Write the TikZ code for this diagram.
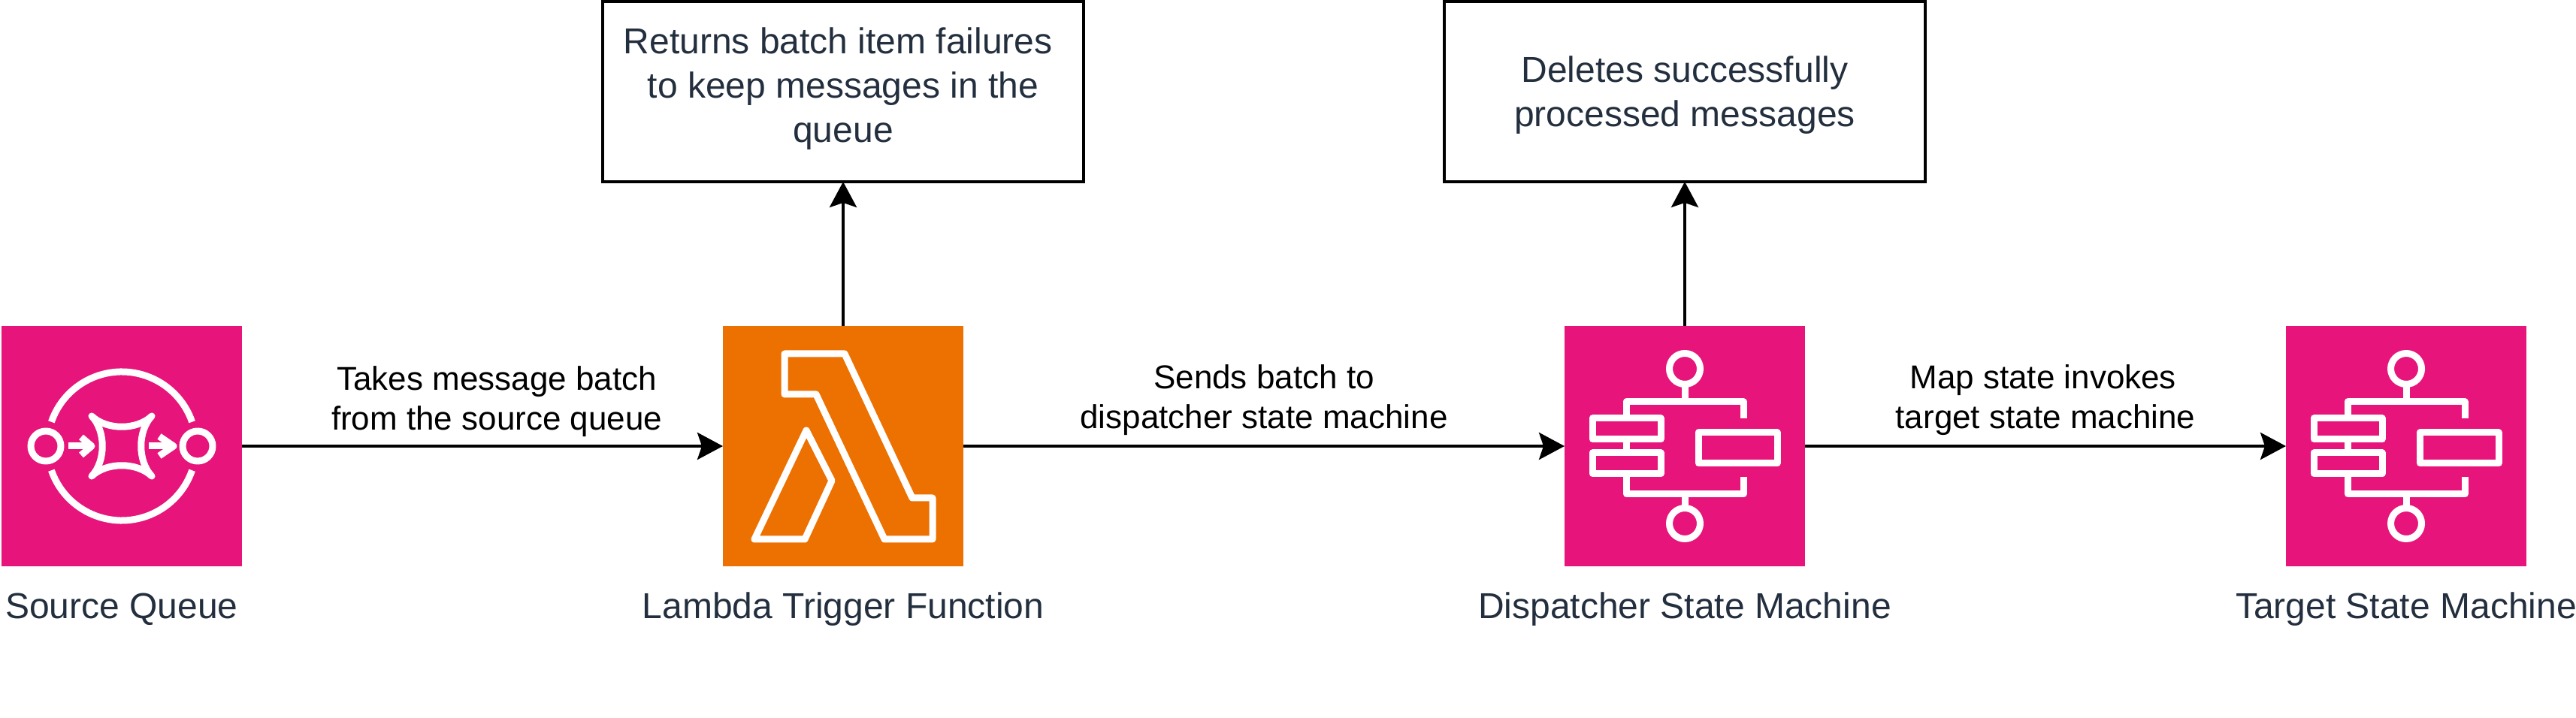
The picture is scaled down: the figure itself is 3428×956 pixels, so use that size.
\documentclass[tikz,border=0pt]{standalone}
\usepackage{fontspec}
\setmainfont{Liberation Sans}
\usetikzlibrary{positioning,arrows.meta}
\definecolor{awspink}{HTML}{E7157B}
\definecolor{awsorange}{HTML}{ED7100}
\definecolor{awsink}{HTML}{232F3E}
\tikzset{
	service/.style={minimum width=160pt,minimum height=160pt,inner sep=0pt,outer sep=0pt},
	caption/.style={text=awsink,inner sep=0pt,text height=17.5pt,text depth=5.2pt,font=\fontsize{24}{29.5}\selectfont},
	notebox/.style={draw,line width=2pt,minimum width=320pt,minimum height=120pt,inner sep=0pt,outer sep=0pt,align=center,text=awsink,font=\fontsize{24}{29.5}\selectfont},
	flow/.style={line width=2pt,-{Stealth[length=17pt,width=18pt,inset=3pt]}},
	flowlabel/.style={align=center,inner sep=0pt,font=\fontsize{22}{26.5}\selectfont},
	glyph/.style={draw=white,line width=4.5pt,line join=round},
	queueicon/.pic={
		\draw[glyph] (161:99) ++(160,160) arc[start angle=161,end angle=19,radius=99];
		\draw[glyph] (199:99) ++(160,160) arc[start angle=199,end angle=341,radius=99];
		\draw[glyph] (59,160) circle[radius=20];
		\draw[glyph] (261,160) circle[radius=20];
		\draw[glyph,line cap=round] (120,120) .. controls (140,139) and (180,139) .. (200,120)
			.. controls (181,140) and (181,180) .. (200,200)
			.. controls (180,181) and (140,181) .. (120,200)
			.. controls (139,180) and (139,140) .. (120,120) -- cycle;
		\draw[glyph] (89,160) -- (118,160);
		\draw[glyph] (106,148) -- (120,160) -- (106,172);
		\draw[glyph] (196,160) -- (226,160);
		\draw[glyph] (210,147) -- (229,160) -- (210,173);
	},
	lambdaicon/.pic={
		\draw[glyph] (82,37) -- (162,37) -- (252,229) -- (279,229) -- (279,284) -- (215,284) -- (124,91) -- (82,91) -- cycle;
		\draw[glyph] (111,139) -- (145,206) -- (109,284) -- (42,284) -- cycle;
	},
	machineicon/.pic={
		\draw[glyph] (160,57) circle[radius=20.5];
		\draw[glyph] (160,263) circle[radius=20.5];
		\draw[glyph] (160,78) -- (160,101);
		\draw[glyph] (82,123) -- (82,101) -- (238,101) -- (238,123);
		\draw[glyph] (37,123) rectangle (128,151);
		\draw[glyph] (82,151) -- (82,169);
		\draw[glyph] (37,169) rectangle (128,197);
		\draw[glyph] (178,142) rectangle (283,183);
		\draw[glyph] (82,197) -- (82,224) -- (238,224) -- (238,201);
		\draw[glyph] (160,224) -- (160,242);
	}
}
\begin{document}
\begin{tikzpicture}[x=0.5pt,y=-0.5pt]
	\useasboundingbox (0,0) rectangle (3428,956);
	% top row of the flow
	\node[service,fill=awspink] (queue) at (162,594) {};
	\node[service,fill=awsorange,right=320pt of queue] (trigger) {};
	\node[service,fill=awspink,right=400pt of trigger] (dispatcher) {};
	\node[service,fill=awspink,right=320pt of dispatcher] (target) {};
	\pic at (queue.north west) {queueicon};
	\pic at (trigger.north west) {lambdaicon};
	\pic at (dispatcher.north west) {machineicon};
	\pic at (target.north west) {machineicon};
	% captions
	\node[caption,below=17pt of queue] (queuename) {Source Queue};
	\node[caption,below=17pt of trigger] (triggername) {Lambda Trigger Function};
	\node[caption,below=17pt of dispatcher] (dispatchername) {Dispatcher State Machine};
	\node[caption,below=17pt of target] (targetname) {Target State Machine};
	% notes
	\node[notebox,above=96pt of trigger] (failures) {Returns batch item failures\hspace*{6.7pt}\\to keep messages in the\\queue\\[-21pt]};
	\node[notebox,above=96pt of dispatcher] (deletes) {\rule{0pt}{22pt}Deletes successfully\\processed messages};
	% connectors
	\draw[flow] (queue) -- node[flowlabel,above=5pt,pos=.53] {Takes message batch\\from the source queue} (trigger);
	\draw[flow] (trigger) -- node[flowlabel,above=6pt] {Sends batch to\\dispatcher state machine} (dispatcher);
	\draw[flow] (dispatcher) -- node[flowlabel,above=6pt] {Map state invokes\hspace*{3.3pt}\\target state machine} (target);
	\draw[flow] (trigger) -- (failures);
	\draw[flow] (dispatcher) -- (deletes);
\end{tikzpicture}
\end{document}
